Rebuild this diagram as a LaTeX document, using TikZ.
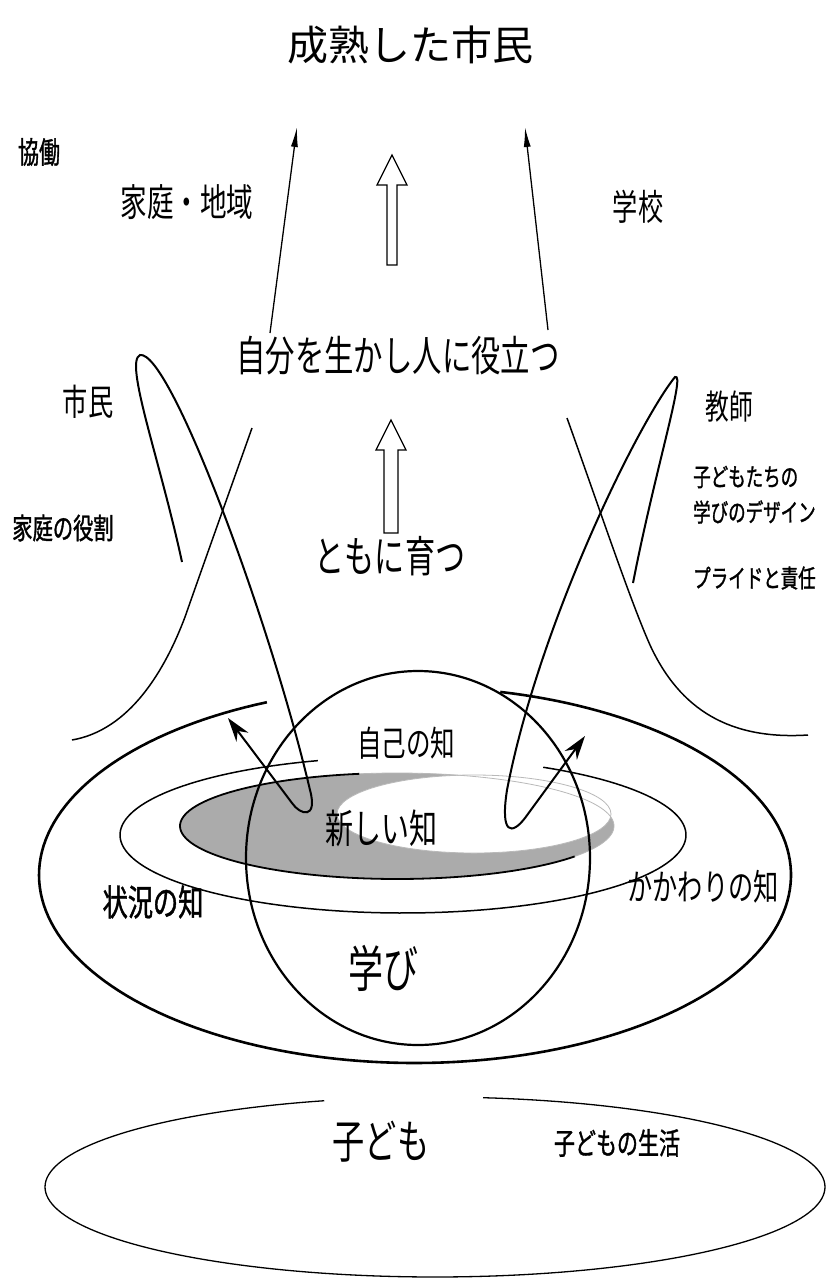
\documentclass[tikz,border=0pt]{standalone}
\usepackage{fontspec}
\newfontfamily\jp[FakeStretch=0.7]{Noto Sans CJK JP}
\newfontfamily\jpb[FakeStretch=0.7,FakeBold=1.2]{Noto Sans CJK JP}
\newfontfamily\jpw{Noto Sans CJK JP}
\usetikzlibrary{arrows.meta}
\newcommand\fsz[1]{\fontsize{#1}{#1}\selectfont}
\begin{document}
\begin{tikzpicture}[x=1pt,y=-1pt,
  lbl/.style={inner sep=0pt, text=black},
  outerln/.style={line width=2.6pt},
  circln/.style={line width=2.2pt},
  midln/.style={line width=1.5pt},
  bellln/.style={line width=1.5pt},
  loopln/.style={line width=2pt},
  thinarr/.style={line width=1.3pt, -{Latex[length=20pt,width=7pt]}},
  blockarr/.style={line width=1.3pt, fill=white, line join=miter},
  botln/.style={line width=1.3pt}]
\useasboundingbox (0,0) rectangle (828,1280);
\fill[white] (0,0) rectangle (828,1280);

% shaded "new knowledge" ellipse
\fill[black!33] (397,826) ellipse [x radius=217, y radius=53];
\fill[white] (474,814) ellipse [x radius=137, y radius=39];
\draw[gray!55, line width=0.8pt] (474,814) ellipse [x radius=137, y radius=39];
\draw[black, line width=1.8pt] plot[domain=100:325, samples=90] ({397+217*cos(\x)},{826-53*sin(\x)});
\draw[gray!55, line width=0.8pt] plot[domain=325:460, samples=60] ({397+217*cos(\x)},{826-53*sin(\x)});

% middle ellipse (open at top)
\draw[midln] plot[domain=107.5:420.3, samples=150] ({403+283*cos(\x)},{835-78*sin(\x)});

% circle
\draw[circln] (418,858) ellipse [x radius=172, y radius=187];

% outer thick ellipse (open at top)
\draw[outerln] plot[domain=113.2:436.9, samples=180] ({415+376*cos(\x)},{875-188*sin(\x)});

% bottom ellipse (open at top)
\draw[botln] plot[domain=106.5:442.9, samples=180] ({435+390*cos(\x)},{1187-90*sin(\x)});

% bell curves
\draw[bellln] (252,428) .. controls (230,490) and (205,560) .. (185,617) .. controls (165,670) and (130,730) .. (72,740);
\draw[bellln] (567,418) .. controls (600,510) and (630,600) .. (650,645) .. controls (680,710) and (730,740) .. (808,735);

% loop arrows
\coordinate (lstart) at (182,562);
\coordinate (ltop) at (140,355);
\coordinate (lbot) at (310,790);
\coordinate (ltip) at (228,718);
\draw[loopln, -{Stealth[length=24pt,width=15pt]}] (lstart) .. controls (160,460) and (124,362) .. (ltop) .. controls (170,350) and (270,620) .. (lbot) .. controls (318,820) and (300,815) .. (292,803) -- (ltip);
\coordinate (rstart) at (633,583);
\coordinate (rtop) at (675,377);
\coordinate (rbot) at (507,790);
\coordinate (rtip) at (585,736);
\draw[loopln, -{Stealth[length=24pt,width=15pt]}] (rstart) .. controls (655,470) and (686,372) .. (rtop) .. controls (640,420) and (540,620) .. (rbot) .. controls (500,835) and (512,835) .. (525,818) -- (rtip);

% thin up arrows
\coordinate (la0) at (270,333);
\coordinate (la1) at (297,127);
\coordinate (ra0) at (548,330);
\coordinate (ra1) at (525,127);
\draw[thinarr] (la0) -- (la1);
\draw[thinarr] (ra0) -- (ra1);

% hollow block arrows
\draw[blockarr] (387,265) -- (387,185) -- (377,185) -- (392,155) -- (407,185) -- (397,185) -- (397,265) -- cycle;
\draw[blockarr] (384,533) -- (384,450) -- (376,450) -- (391,420) -- (406,450) -- (398,450) -- (398,533) -- cycle;

% labels
\node[lbl, font=\jpw\fsz{41}] (title) at (410,45) {成熟した市民};
\node[lbl, font=\jpb\fsz{30}] (kyodo) at (39,152) {協働};
\node[lbl, font=\jp\fsz{38}] (katei) at (187,202) {家庭・地域};
\node[lbl, font=\jp\fsz{36}] (gakko) at (638,207) {学校};
\node[lbl, font=\jp\fsz{42}] (jibun) at (398,356) {自分を生かし人に役立つ};
\node[lbl, font=\jp\fsz{36}] (shimin) at (88,402) {市民};
\node[lbl, font=\jpb\fsz{29}] (yakuwari) at (63,528) {家庭の役割};
\node[lbl, font=\jp\fsz{34}] (kyoshi) at (729,407) {教師};
\node[lbl, font=\jpb\fsz{25}, anchor=west] (kodomotachi) at (693,477) {子どもたちの};
\node[lbl, font=\jpb\fsz{25}, anchor=west] (design) at (693,512) {学びのデザイン};
\node[lbl, font=\jpb\fsz{25}, anchor=west] (pride) at (693,578) {プライドと責任};
\node[lbl, font=\jp\fsz{43}] (tomoni) at (390,556) {ともに育つ};
\node[lbl, font=\jp\fsz{35}] (jiko) at (406,743) {自己の知};
\node[lbl, font=\jp\fsz{40}] (atarashii) at (381,828) {新しい知};
\node[lbl, font=\jpb\fsz{36}] (jokyo) at (153,902) {状況の知};
\node[lbl, font=\jp\fsz{36}] (kakawari) at (703,887) {かかわりの知};
\node[lbl, font=\jp\fsz{50}] (manabi) at (383,968) {学び};
\node[lbl, font=\jp\fsz{46}] (kodomo) at (381,1142) {子ども};
\node[lbl, font=\jpb\fsz{30}] (seikatsu) at (617,1143) {子どもの生活};
\end{tikzpicture}
\end{document}
